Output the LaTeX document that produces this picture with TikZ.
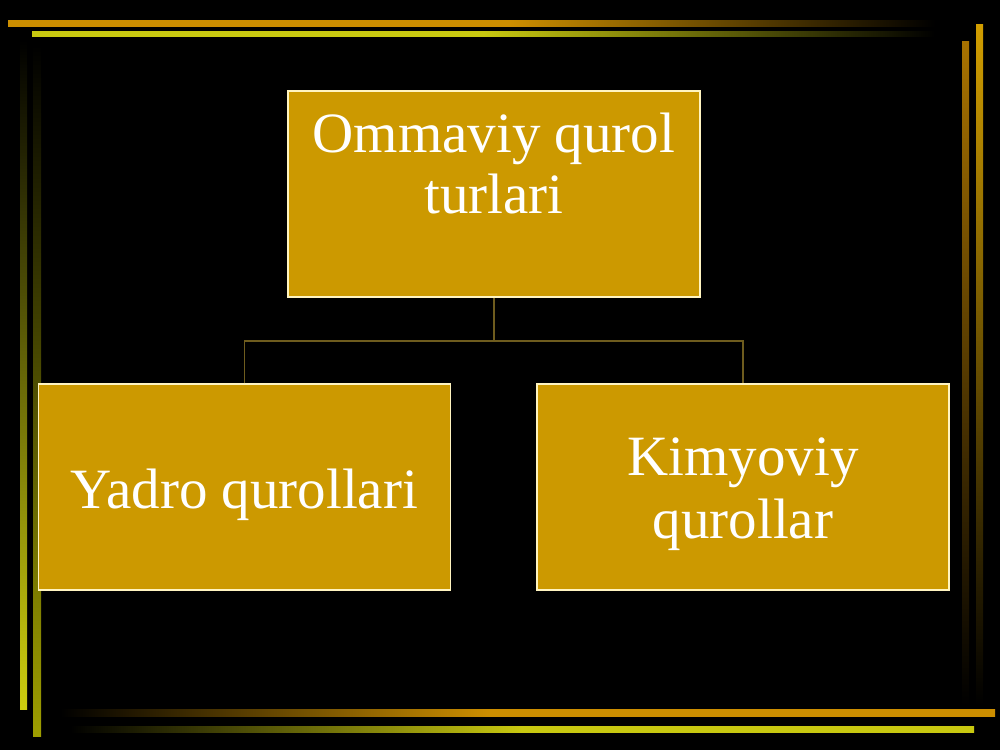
\documentclass[tikz,border=0pt]{standalone}
\usepackage{fontspec}
\setmainfont{Liberation Serif}
\definecolor{boxfill}{HTML}{CC9900}
\definecolor{boxline}{HTML}{FFF4C0}
\definecolor{linkcol}{HTML}{6E5C1E}
\definecolor{orng}{HTML}{CC8E00}
\definecolor{yllw}{HTML}{C8C810}
\definecolor{olive}{HTML}{9E9E00}
\definecolor{brnorng}{HTML}{A87200}
\definecolor{gold}{HTML}{D29E00}
\pgfdeclarehorizontalshading{topO}{100bp}{color(0bp)=(orng); color(25bp)=(orng); color(52bp)=(orng); color(75bp)=(black); color(100bp)=(black)}
\pgfdeclarehorizontalshading{topY}{100bp}{color(0bp)=(yllw); color(25bp)=(yllw); color(50bp)=(yllw); color(75bp)=(black); color(100bp)=(black)}
\pgfdeclarehorizontalshading{botO}{100bp}{color(0bp)=(black); color(25bp)=(black); color(48bp)=(orng); color(75bp)=(orng); color(100bp)=(orng)}
\pgfdeclarehorizontalshading{botY}{100bp}{color(0bp)=(black); color(25bp)=(black); color(50bp)=(yllw); color(75bp)=(yllw); color(100bp)=(yllw)}
\begin{document}
\begin{tikzpicture}[x=1pt,y=-1pt,
  box/.style={draw=boxline, line width=1.5pt, fill=boxfill, minimum width=412pt, minimum height=206pt, inner sep=0pt},
  label/.style={text=white, font=\fontsize{57}{63}\selectfont, inner sep=0pt, anchor=base},
  link/.style={draw=linkcol, line width=1.2pt}]
\fill[black] (0,0) rectangle (1000,750);
\useasboundingbox (0,0) rectangle (1000,750);
% top lines
\shade[shading=topO] (8,20) rectangle (935,26);
\shade[shading=topY] (32,31) rectangle (935,36);
% left vertical lines
\shade[top color=black, bottom color=yllw!90!yellow] (20,40) rectangle (27,709);
\shade[top color=black, bottom color=olive] (33,45) rectangle (41,736);
% bottom lines
\shade[shading=botO] (60,709) rectangle (995,716);
\shade[shading=botY] (70,726) rectangle (974,732);
% right vertical lines
\shade[top color=brnorng, bottom color=black] (962,41) rectangle (969,705);
\shade[top color=gold, bottom color=black] (976,24) rectangle (983,705);
% boxes
\node[box] (top) at (494,194) {};
\node[box] (left) at (244.5,487) {};
\node[box] (right) at (743,487) {};
% connectors
\coordinate (mid) at (494,341);
\draw[link] (top.south) -- (mid);
\draw[link] (left.north) |- (mid) -| (right.north);
% texts
\node[label] (t1) at (494,152) {Ommaviy qurol};
\node[label] (t2) at (494,213) {turlari};
\node[label] (l1) at (244.5,508) {Yadro qurollari};
\node[label] (r1) at (743,475) {Kimyoviy};
\node[label] (r2) at (743,538) {qurollar};
\end{tikzpicture}
\end{document}
